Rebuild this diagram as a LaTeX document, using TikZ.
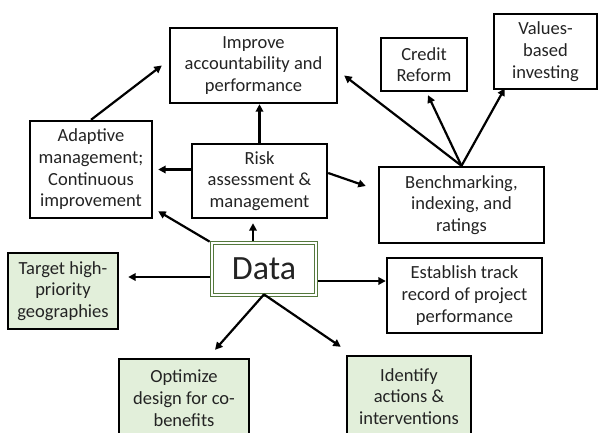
\documentclass[tikz,border=0pt]{standalone}
\usepackage{fontspec}
\setmainfont{Carlito}
\usetikzlibrary{arrows.meta,calc}
\definecolor{boxgreen}{RGB}{226,239,218}
\definecolor{datagreen}{RGB}{84,120,60}
\definecolor{txt}{RGB}{35,35,35}
\begin{document}
\begin{tikzpicture}[x=1pt,y=-1pt,
  box/.style={draw=black,line width=2.4pt,rectangle,align=center,inner sep=2pt,
    text=txt,font=\fontsize{18.5}{21.7}\selectfont},
  gbox/.style={box,fill=boxgreen},
  arr/.style={line width=2.2pt,-{Triangle[length=7.5pt,width=7.5pt]}}]
\useasboundingbox (0,0) rectangle (598,432);
\node[box,minimum width=167pt,minimum height=75pt] (Improve) at (253.5,65.5) {Improve\\accountability and\\performance};
\node[box,minimum width=86pt,minimum height=53pt] (Credit) at (424,64.5) {Credit\\Reform};
\node[box,minimum width=103pt,minimum height=75pt] (Values) at (545.5,51.5) {Values-\\based\\investing};
\node[box,minimum width=122pt,minimum height=97pt] (Adaptive) at (91,169.5) {Adaptive\\management;\\Continuous\\improvement};
\node[box,minimum width=135pt,minimum height=74pt] (Risk) at (259.5,181) {Risk\\assessment \&\\management};
\node[box,minimum width=165pt,minimum height=76pt] (Bench) at (461.5,205) {Benchmarking,\\indexing, and\\ratings};
\node[gbox,minimum width=110pt,minimum height=76pt] (Target) at (63,291) {Target high-\\priority\\geographies};
\node[box,minimum width=155pt,minimum height=75pt] (Establish) at (464.5,295.5) {Establish track\\record of project\\performance};
\node[gbox,minimum width=130pt,minimum height=78pt] (Optimize) at (184,398) {Optimize\\design for co-\\benefits};
\node[gbox,minimum width=124pt,minimum height=81pt] (Identify) at (409,396.5) {Identify\\actions \&\\interventions};
\node[draw=datagreen,double=white,double distance=1.6pt,line width=0.8pt,
  minimum width=104pt,minimum height=52pt,inner sep=0pt,text=txt,
  font=\fontsize{34}{40}\selectfont] (Data) at (264,269) {Data};

\draw[arr] (Adaptive.north) -- ($(Improve.west)+(-7,0)$);
\draw[arr] (Risk.north) -- (Risk.north |- Improve.south);
\draw[arr] (Risk.west |- Adaptive.east) -- ($(Adaptive.east)+(5,0)$);
\draw[arr] ($(Data.north west)+(-2,-1)$) -- ($(Adaptive.south east)+(5,-8)$);
\draw[arr] ($(Data.north)+(-11,-2)$) -- ($(Risk.south)+(-6.5,4)$);
\draw[arr] ($(Risk.east)+(0,-8)$) -- ($(Bench.west)+(-12,-19)$);
\draw[arr] (Bench.north) -- ($(Improve.east)+(6,10)$);
\draw[arr] (Bench.north) -- ($(Credit.south)+(4,3)$);
\draw[arr] (Bench.north) -- ($(Values.south west)+(12,-2)$);
\draw[arr] ($(Data.west)+(-2,8)$) -- ($(Target.east)+(9,-14)$);
\draw[arr] ($(Data.east)+(2,12)$) -- (Establish.west |- {$(Data.east)+(0,12)$});
\draw[arr] ($(Data.south)+(0,-1)$) -- ($(Optimize.north)+(31,-8)$);
\draw[arr] ($(Data.south)+(0,-1)$) -- ($(Identify.north west)+(-5,-8)$);
\end{tikzpicture}
\end{document}
